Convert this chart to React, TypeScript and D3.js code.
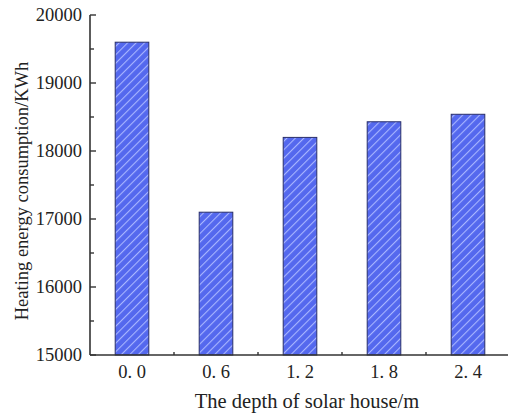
import React, { useEffect, useRef } from 'react';
import * as d3 from 'd3';

const depths = ['0.0', '0.6', '1.2', '1.8', '2.4'];
const consumption = [19600, 17100, 18200, 18430, 18540];
const yTicks = [15000, 16000, 17000, 18000, 19000, 20000];

const W = 508;
const H = 414;

export default function App() {
  const ref = useRef<SVGSVGElement>(null);

  useEffect(() => {
    const svg = d3.select(ref.current);
    svg.selectAll('*').remove();

    const m = { top: 15, right: -2, bottom: 59, left: 90 };
    const x = d3.scaleBand<string>()
      .domain(depths)
      .range([m.left, W - m.right])
      .paddingInner(0.6)
      .paddingOuter(0.3);
    const y = d3.scaleLinear()
      .domain([15000, 20000])
      .range([H - m.bottom, m.top]);

    // hatch pattern for bars
    const defs = svg.append('defs');
    const pat = defs.append('pattern')
      .attr('id', 'hatch')
      .attr('patternUnits', 'userSpaceOnUse')
      .attr('width', 6)
      .attr('height', 6)
      .attr('patternTransform', 'rotate(45)');
    pat.append('rect').attr('width', 6).attr('height', 6).attr('fill', '#5468ee');
    pat.append('line')
      .attr('x1', 0).attr('y1', 0).attr('x2', 0).attr('y2', 6)
      .attr('stroke', '#a9b6ff').attr('stroke-width', 2.2);

    const font = '"Liberation Serif", "Times New Roman", serif';

    // bars
    svg.append('g').selectAll('rect')
      .data(consumption)
      .enter().append('rect')
      .attr('x', (d, i) => x(depths[i])!)
      .attr('width', x.bandwidth())
      .attr('y', d => y(d))
      .attr('height', d => y(15000) - y(d))
      .attr('fill', 'url(#hatch)')
      .attr('stroke', '#2a2f6a')
      .attr('stroke-width', 1);

    const axisColor = '#333';

    // y axis, ticks point inward
    const gy = svg.append('g');
    gy.append('line')
      .attr('x1', m.left).attr('x2', m.left)
      .attr('y1', y(20000)).attr('y2', y(15000))
      .attr('stroke', axisColor).attr('stroke-width', 1.6);
    yTicks.forEach(t => {
      gy.append('line')
        .attr('x1', m.left).attr('x2', m.left + 6)
        .attr('y1', y(t)).attr('y2', y(t))
        .attr('stroke', axisColor).attr('stroke-width', 1.4);
      gy.append('text')
        .attr('x', m.left - 8).attr('y', y(t))
        .attr('dy', '0.35em')
        .attr('text-anchor', 'end')
        .attr('font-family', font)
        .attr('font-size', 18.5)
        .attr('fill', '#222')
        .text(t);
    });
    d3.range(15500, 20000, 1000).forEach(t => {
      gy.append('line')
        .attr('x1', m.left).attr('x2', m.left + 4)
        .attr('y1', y(t)).attr('y2', y(t))
        .attr('stroke', axisColor).attr('stroke-width', 1.4);
    });

    // x axis, small ticks between bars
    const gx = svg.append('g');
    gx.append('line')
      .attr('x1', m.left).attr('x2', W)
      .attr('y1', y(15000)).attr('y2', y(15000))
      .attr('stroke', axisColor).attr('stroke-width', 1.6);
    depths.slice(1).forEach((dp, i) => {
      const mid = (x(dp)! + x(depths[i])! + x.bandwidth()) / 2;
      gx.append('line')
        .attr('x1', mid).attr('x2', mid)
        .attr('y1', y(15000)).attr('y2', y(15000) - 3)
        .attr('stroke', axisColor).attr('stroke-width', 1.4);
    });
    depths.forEach(dp => {
      gx.append('text')
        .attr('x', x(dp)! + x.bandwidth() / 2)
        .attr('y', y(15000) + 23)
        .attr('text-anchor', 'middle')
        .attr('font-family', font)
        .attr('font-size', 18.5)
        .attr('fill', '#222')
        .text(dp.replace('.', '. '));
    });

    // titles
    svg.append('text')
      .attr('x', 307)
      .attr('y', H - 6)
      .attr('text-anchor', 'middle')
      .attr('font-family', font)
      .attr('font-size', 20.5)
      .attr('fill', '#222')
      .text('The depth of solar house/m');
    svg.append('text')
      .attr('transform', 'translate(28,191) rotate(-90)')
      .attr('text-anchor', 'middle')
      .attr('font-family', font)
      .attr('font-size', 18.5)
      .attr('fill', '#222')
      .text('Heating energy consumption/KWh');
  }, []);

  return (
    <svg ref={ref} width={W} height={H}
      style={{ position: 'absolute', left: 0, top: 0, background: '#fff' }} />
  );
}
